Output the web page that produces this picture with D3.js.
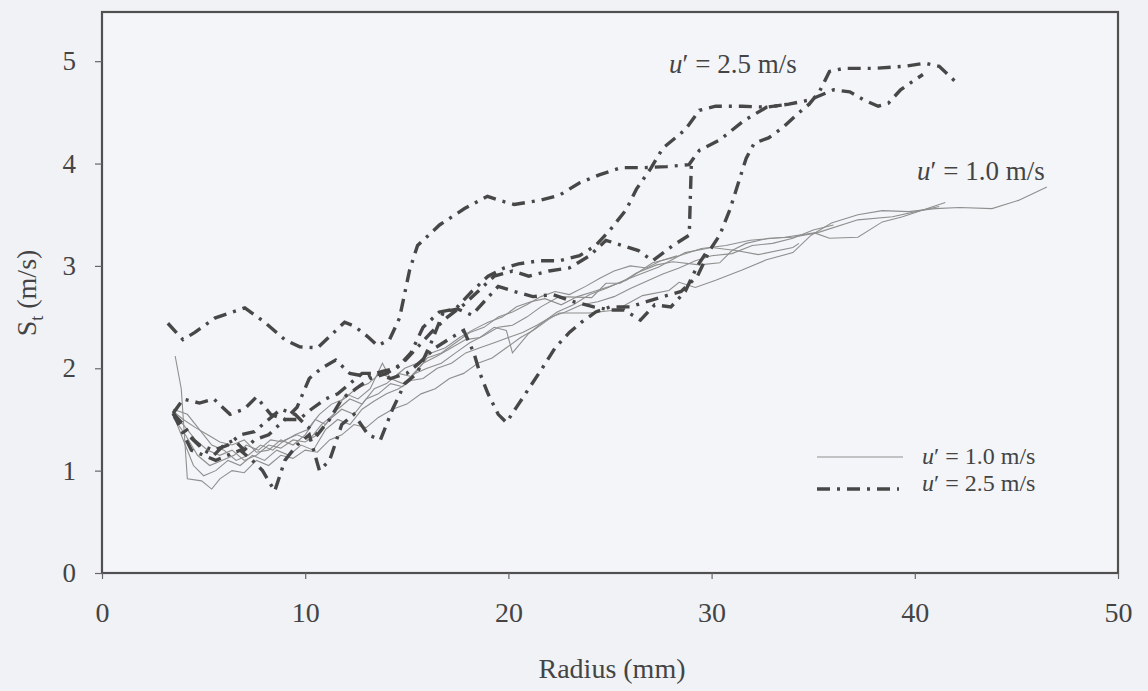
<!DOCTYPE html>
<html>
<head>
<meta charset="utf-8">
<script src="https://cdn.jsdelivr.net/npm/d3@7"></script>
<style>
  html, body { margin: 0; padding: 0; background: #f0f2f6; }
  svg { display: block; }
  text { font-family: "Liberation Serif", "Times New Roman", serif; fill: #444; }
</style>
</head>
<body>
<svg id="chart" width="1148" height="691"></svg>
<script>
// Flame speed S_t against radius, two turbulence intensities.
const xTicks = [0, 10, 20, 30, 40, 50];
const yTicks = [0, 1, 2, 3, 4, 5];

// u' = 1.0 m/s runs: [radius mm, S_t m/s]
const low1 = [[3.6,2.12],[3.9,1.8],[4.2,0.92],[4.9,0.9],[5.4,0.82],[5.8,0.92],[6.4,1.0],[7.0,0.98],[7.6,1.1],[8.2,1.05],[8.8,1.15],[9.4,1.12],[10.0,1.2],[10.6,1.18],[11.2,1.3],[11.8,1.35],[12.4,1.45],[13.0,1.42],[13.6,1.52],[14.3,1.6],[15.0,1.65],[15.7,1.75],[16.4,1.8],[17.1,1.9],[17.8,1.95],[18.5,2.05],[19.2,2.1],[19.9,2.2],[20.6,2.3],[21.3,2.38],[22.0,2.48],[22.5,2.54],[24.0,2.54],[25.3,2.57],[26.6,2.71],[27.9,2.76],[28.4,2.84],[29.2,2.79],[30.2,2.86],[31.5,2.96],[32.7,3.06],[34.0,3.13],[34.9,3.3],[35.9,3.42],[37.2,3.5],[38.4,3.54],[39.7,3.53],[41.0,3.56],[42.2,3.57],[43.8,3.56],[45.1,3.64],[46.5,3.77]];
const low2 = [[3.5,1.55],[4.0,1.45],[4.6,1.3],[5.2,1.2],[5.8,1.15],[6.4,1.2],[7.0,1.1],[7.6,1.15],[8.2,1.25],[8.8,1.22],[9.4,1.3],[10.0,1.28],[10.6,1.35],[11.2,1.5],[11.8,1.6],[12.4,1.55],[13.0,1.7],[13.6,1.75],[14.2,1.85],[14.8,1.82],[15.4,1.95],[16.0,2.0],[16.7,2.05],[17.4,2.15],[18.1,2.25],[18.8,2.32],[19.5,2.4],[20.2,2.42],[20.9,2.5],[21.6,2.6],[22.5,2.7],[24.1,2.69],[24.8,2.83],[25.5,2.83],[26.3,2.93],[27.3,3.01],[28.1,3.04],[29.4,3.01],[30.4,3.03],[31.0,3.15],[31.7,3.22],[32.8,3.27],[34.0,3.28],[35.1,3.32],[35.8,3.27],[37.2,3.28],[38.4,3.43],[39.4,3.48],[41.5,3.62]];
const low3 = [[3.5,1.52],[4.1,1.35],[4.7,1.15],[5.3,1.05],[5.9,1.1],[6.5,1.15],[7.1,1.25],[7.7,1.2],[8.3,1.3],[8.9,1.28],[9.5,1.35],[10.1,1.4],[10.7,1.55],[11.3,1.65],[11.9,1.7],[12.5,1.8],[13.1,1.85],[13.7,1.95],[14.3,1.9],[14.9,2.0],[15.5,2.05],[16.2,2.15],[16.9,2.2],[17.6,2.3],[18.3,2.38],[19.0,2.45],[19.7,2.5],[20.4,2.6],[21.1,2.65],[21.8,2.68],[22.6,2.62],[23.4,2.7],[24.2,2.75],[25.0,2.8],[25.8,2.86],[27.1,3.03],[28.1,3.08],[29.5,3.17],[30.7,3.2],[31.9,3.25],[33.6,3.28],[35.3,3.33],[37.2,3.45],[38.9,3.48],[40.5,3.55],[41.2,3.58]];
const low4 = [[3.5,1.58],[4.0,1.5],[4.6,1.42],[5.2,1.35],[5.8,1.28],[6.4,1.25],[7.0,1.3],[7.6,1.18],[8.2,1.2],[8.8,1.3],[9.4,1.25],[10.0,1.35],[10.5,1.5],[11.0,1.45],[11.6,1.6],[12.2,1.7],[12.8,1.65],[13.4,1.8],[14.0,1.85],[14.6,1.95],[15.2,1.92],[15.8,2.05],[16.5,2.12],[17.2,2.2],[17.9,2.28],[18.6,2.3],[19.3,2.4],[19.9,2.37],[20.2,2.15],[21.0,2.34],[21.7,2.45],[22.4,2.55],[23.2,2.62],[24.0,2.72],[24.8,2.78],[25.6,2.85],[26.5,2.92],[27.4,2.99],[28.7,3.13],[30.0,3.18],[31.2,3.15],[32.3,3.11],[34.0,3.18],[34.3,3.22]];
const low5 = [[3.5,1.55],[4.0,1.3],[4.5,1.05],[5.0,0.95],[5.6,1.0],[6.2,1.1],[6.8,1.05],[7.4,1.15],[8.0,1.1],[8.6,1.2],[9.2,1.15],[9.8,1.25],[10.4,1.2],[11.0,1.4],[11.6,1.5],[12.2,1.45],[12.8,1.6],[13.4,1.68],[14.0,1.75],[14.6,1.8],[15.2,1.88],[15.8,1.9],[16.5,2.0],[17.2,2.05],[17.9,2.15],[18.6,2.2],[19.3,2.25],[20.0,2.3],[20.7,2.35],[21.4,2.42],[22.1,2.5],[22.8,2.55],[23.6,2.62],[24.4,2.65],[25.2,2.7],[26.0,2.78],[26.8,2.85],[27.6,2.92],[28.4,2.98],[29.2,3.05],[30.0,3.1],[31.0,3.12],[32.0,3.2],[33.0,3.22],[34.0,3.27],[35.0,3.35],[36.0,3.4]];
const low6 = [[3.5,1.6],[4.2,1.55],[4.8,1.4],[5.4,1.25],[6.0,1.2],[6.6,1.1],[7.2,1.15],[7.8,1.25],[8.4,1.2],[9.0,1.3],[9.6,1.35],[10.2,1.3],[10.8,1.45],[11.4,1.55],[12.0,1.75],[12.6,1.7],[13.2,1.8],[13.8,2.05],[14.2,1.9],[14.8,1.85],[15.4,1.95],[16.0,2.1],[16.7,2.15],[17.4,2.25],[18.1,2.35],[18.8,2.4],[19.5,2.5],[20.2,2.55],[20.9,2.62],[21.6,2.7],[22.3,2.75],[23.0,2.72],[23.8,2.8],[24.5,2.88],[25.2,2.95],[26.0,3.0],[26.8,2.98],[27.5,3.05],[28.3,3.1]];

// u' = 2.5 m/s runs
const high1 = [[3.24,2.44],[3.98,2.28],[4.57,2.35],[5.55,2.49],[7.03,2.59],[8.01,2.45],[8.99,2.28],[9.73,2.21],[10.61,2.2],[11.2,2.31],[11.94,2.45],[12.43,2.41],[13.07,2.31],[13.56,2.22],[14.15,2.28],[14.64,2.49],[15.14,2.96],[15.53,3.2],[16.61,3.4],[17.84,3.56],[18.97,3.68],[19.56,3.64],[20.29,3.6],[21.52,3.64],[22.51,3.69],[23.49,3.81],[24.47,3.89],[25.55,3.96],[26.68,3.96],[27.8,3.97],[28.89,3.99],[29.4,4.13],[30.4,4.23],[31.6,4.42],[32.7,4.55],[33.8,4.58],[34.8,4.62],[36.0,4.72],[36.8,4.7],[37.5,4.62],[38.2,4.56],[38.7,4.59],[39.3,4.72],[39.95,4.81],[40.4,4.87]];
const high2 = [[3.5,1.56],[4.0,1.7],[4.8,1.66],[5.5,1.7],[6.3,1.55],[7.0,1.6],[7.6,1.72],[8.3,1.55],[9.0,1.5],[9.6,1.62],[10.2,1.9],[10.8,2.0],[11.5,2.08],[12.2,1.95],[13.0,1.92],[13.8,1.97],[14.5,2.0],[15.2,2.15],[15.8,2.4],[16.6,2.55],[17.4,2.58],[18.2,2.75],[19.0,2.9],[19.8,2.98],[20.5,3.02],[21.5,3.05],[22.5,3.05],[23.5,3.1],[24.3,3.2],[25.0,3.35],[25.8,3.55],[26.3,3.75],[27.0,3.95],[27.6,4.15],[28.7,4.33],[29.4,4.52],[30.2,4.56],[31.5,4.56],[32.7,4.55],[33.8,4.58]];
const high3 = [[3.5,1.56],[4.0,1.45],[4.5,1.3],[5.0,1.2],[5.5,1.15],[6.0,1.25],[6.5,1.3],[7.0,1.2],[7.5,1.3],[8.2,1.35],[9.0,1.5],[9.7,1.5],[10.3,1.6],[11.0,1.7],[11.6,1.75],[12.2,1.85],[12.8,1.95],[13.5,1.95],[14.2,1.9],[15.0,1.95],[15.6,2.05],[16.4,2.2],[17.2,2.3],[17.8,2.37],[18.3,2.15],[18.6,1.95],[19.0,1.75],[19.5,1.55],[19.9,1.47],[20.4,1.62],[21.0,1.8],[21.6,1.98],[22.3,2.2],[23.0,2.35],[23.6,2.45],[24.3,2.55],[25.0,2.6],[26.0,2.6],[26.8,2.65],[27.6,2.7],[28.5,2.75],[29.3,2.9],[29.9,3.15],[30.4,3.3],[30.9,3.55],[31.3,3.8],[31.7,4.05],[32.1,4.2],[32.8,4.25],[33.5,4.35],[34.2,4.48],[34.8,4.58],[35.3,4.7],[35.8,4.9],[36.5,4.93],[38.0,4.93],[39.5,4.95],[40.5,4.98],[41.2,4.95],[42.0,4.8]];
const high4 = [[3.5,1.56],[3.9,1.4],[4.4,1.2],[5.0,1.15],[5.6,1.1],[6.2,1.15],[6.8,1.2],[7.4,1.1],[7.9,1.0],[8.5,0.8],[9.0,1.1],[9.6,1.25],[10.2,1.35],[10.7,1.0],[11.2,1.1],[11.8,1.45],[12.4,1.55],[13.1,1.35],[13.7,1.3],[14.3,1.6],[14.9,1.85],[15.5,1.95],[16.2,2.25],[16.8,2.55],[17.5,2.58],[18.2,2.52],[18.8,2.65],[19.5,2.8],[20.3,2.75],[21.2,2.7],[22.2,2.72],[23.2,2.65],[24.2,2.6],[25.0,2.57],[25.7,2.57],[26.5,2.47],[27.2,2.62],[28.0,2.6],[28.7,2.75],[29.3,3.0],[29.8,3.15]];
const high5 = [[3.5,1.56],[4.2,1.35],[4.8,1.25],[5.5,1.2],[6.2,1.25],[6.8,1.35],[7.5,1.38],[8.2,1.5],[8.8,1.6],[9.5,1.55],[10.0,1.45],[10.6,1.35],[11.2,1.5],[11.8,1.7],[12.5,1.8],[13.2,1.9],[14.0,1.95],[14.8,2.05],[15.5,2.2],[16.2,2.35],[17.0,2.5],[17.8,2.62],[18.5,2.75],[19.3,2.9],[20.2,2.95],[21.0,2.9],[22.0,2.95],[23.0,2.98],[24.0,3.1],[24.8,3.25],[25.6,3.2],[26.4,3.15],[27.1,3.05],[28.1,3.2],[28.9,3.3],[29.0,3.98]];

const lowRuns = [low1, low2, low3, low4, low5, low6];
const highRuns = [high1, high2, high3, high4, high5];

const svg = d3.select("#chart");
const frame = { left: 102, right: 1118, top: 12, bottom: 573 };

const x = d3.scaleLinear().domain([0, 50]).range([frame.left, frame.right]);
const y = d3.scaleLinear().domain([0, 5.5]).range([frame.bottom, 10]);

const ink = "#474747";
const thin = "#8f8f8f";
const dashDot = "13,7,3,7";

// plot area
svg.append("rect")
  .attr("x", frame.left).attr("y", frame.top)
  .attr("width", frame.right - frame.left).attr("height", frame.bottom - frame.top)
  .attr("fill", "#f3f5f8");

const line = d3.line().x(d => x(d[0])).y(d => y(d[1]));

svg.append("g").selectAll("path")
  .data(lowRuns).join("path")
  .attr("d", line)
  .attr("fill", "none")
  .attr("stroke", thin)
  .attr("stroke-width", 1.1);

svg.append("g").selectAll("path")
  .data(highRuns).join("path")
  .attr("d", line)
  .attr("fill", "none")
  .attr("stroke", ink)
  .attr("stroke-width", 3.4)
  .attr("stroke-dasharray", dashDot)
  .attr("stroke-linejoin", "miter");

// frame
svg.append("rect")
  .attr("x", frame.left).attr("y", frame.top)
  .attr("width", frame.right - frame.left).attr("height", frame.bottom - frame.top)
  .attr("fill", "none")
  .attr("stroke", "#505050")
  .attr("stroke-width", 2.2);

// axes
const xAxis = svg.append("g")
  .attr("transform", `translate(0,${frame.bottom})`)
  .call(d3.axisBottom(x).tickValues(xTicks).tickSize(6).tickPadding(23).tickFormat(d3.format("d")));
const yAxis = svg.append("g")
  .attr("transform", `translate(${frame.left},0)`)
  .call(d3.axisLeft(y).tickValues(yTicks).tickSize(7).tickPadding(19).tickFormat(d3.format("d")));

[xAxis, yAxis].forEach(g => {
  g.select(".domain").remove();
  g.selectAll(".tick line").attr("stroke", "#666").attr("stroke-width", 1.2);
  g.selectAll(".tick text")
    .attr("fill", "#444")
    .style("font-family", '"Liberation Serif", serif');
});
xAxis.selectAll(".tick text").style("font-size", "28px");
yAxis.selectAll(".tick text").style("font-size", "27px");

// axis titles
svg.append("text")
  .attr("x", 612).attr("y", 678)
  .attr("text-anchor", "middle")
  .style("font-size", "28px")
  .text("Radius (mm)");

const yTitle = svg.append("text")
  .attr("transform", "translate(36,293) rotate(-90)")
  .attr("text-anchor", "middle")
  .style("font-size", "28px");
yTitle.append("tspan").text("S");
yTitle.append("tspan").attr("dy", 7).style("font-size", "18px").text("t");
yTitle.append("tspan").attr("dy", -7).text(" (m/s)");

// curve labels
function uLabel(xPos, yPos, value, size) {
  const t = svg.append("text").attr("x", xPos).attr("y", yPos).style("font-size", size + "px");
  t.append("tspan").style("font-style", "italic").text("u");
  t.append("tspan").text("\u2032 = " + value + " m/s");
  return t;
}
uLabel(669, 73, "2.5", 27);
uLabel(917, 180, "1.0", 27);

// legend
svg.append("line")
  .attr("x1", 817).attr("x2", 903).attr("y1", 457).attr("y2", 457)
  .attr("stroke", thin).attr("stroke-width", 1.1);
svg.append("line")
  .attr("x1", 817).attr("x2", 899).attr("y1", 489).attr("y2", 489)
  .attr("stroke", ink).attr("stroke-width", 3.4)
  .attr("stroke-dasharray", dashDot);
uLabel(922, 464, "1.0", 24);
uLabel(922, 491, "2.5", 24);
</script>
</body>
</html>
